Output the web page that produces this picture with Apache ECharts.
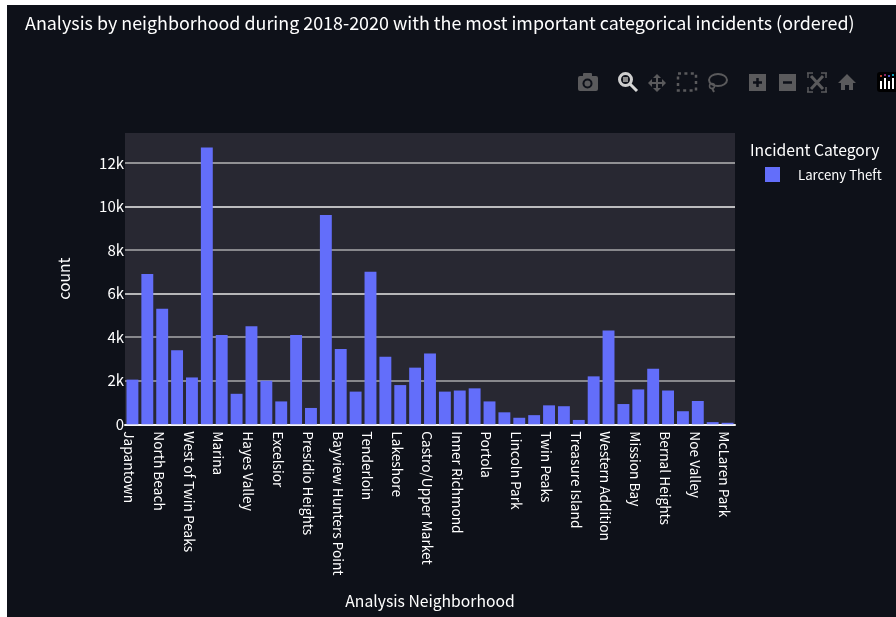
<!DOCTYPE html>
<html><head><meta charset="utf-8">
<style>html,body{margin:0;padding:0;background:#fff}#c{width:896px;height:617px}</style>
<script src="https://cdn.jsdelivr.net/npm/echarts@6/dist/echarts.min.js"></script>
</head><body><div id="c"></div>
<script>
// Only every second neighbourhood name is legible in the picture; the others stay blank.
const neighborhoods = ["Japantown","","North Beach","","West of Twin Peaks","","Marina","","Hayes Valley","","Excelsior","","Presidio Heights","","Bayview Hunters Point","","Tenderloin","","Lakeshore","","Castro/Upper Market","","Inner Richmond","","Portola","","Lincoln Park","","Twin Peaks","","Treasure Island","","Western Addition","","Mission Bay","","Bernal Heights","","Noe Valley","","McLaren Park"];
const larcenyTheft = [2050,6900,5300,3400,2150,12700,4100,1400,4500,2000,1050,4100,750,9600,3450,1500,7000,3100,1800,2600,3250,1500,1550,1650,1050,550,300,420,870,830,200,2200,4300,930,1600,2550,1550,600,1070,100,70];
const FONT = '"Noto Sans CJK SC","Noto Sans",sans-serif';
const chart = echarts.init(document.getElementById('c'), null, {renderer:'canvas'});
const G='#5a5a5c', BG='#0e1119';
const rect=(x,y,w,h,fill,r)=>({type:'rect',silent:true,shape:{x,y,width:w,height:h,r:r||0},style:{fill}});
const line=(x1,y1,x2,y2,stroke,w)=>({type:'line',silent:true,shape:{x1,y1,x2,y2},style:{stroke,lineWidth:w||2}});
const poly=(points,fill)=>({type:'polygon',silent:true,shape:{points},style:{fill}});
const circ=(cx,cy,r,fill,stroke,w)=>({type:'circle',silent:true,shape:{cx,cy,r},style:{fill:fill||'none',stroke:stroke||null,lineWidth:w||0}});
const modebar=[
  // camera
  rect(578,76,20,15,G,2),rect(583,73,9,4,G,1),circ(587.5,83.5,5,BG),circ(587.5,83.5,3,G),
  // zoom (active)
  circ(625.5,79.5,6,'none','#cfcfcf',3),rect(623,77,5,5,'#8a8a8a'),line(630,84,637,91,'#d8d8d8',3),
  // pan
  line(649,83,665,83,G,2),line(657,75,657,91,G,2),
  poly([[648,83],[652,79],[652,87]],G),poly([[666,83],[662,79],[662,87]],G),
  poly([[657,74],[653,78],[661,78]],G),poly([[657,92],[653,88],[661,88]],G),
  // box select
  {type:'rect',silent:true,shape:{x:678,y:73.5,width:18,height:17},style:{fill:'none',stroke:G,lineWidth:2.5,lineDash:[3,3.4]}},
  // lasso
  {type:'ellipse',silent:true,shape:{cx:718,cy:80,rx:9,ry:6},style:{fill:'none',stroke:G,lineWidth:2}},
  circ(712,86,2.5,'none',G,1.5),line(712,88,714,92,G,2),
  // zoom in
  rect(749,74,17,17,G),line(753,82.5,762,82.5,BG,2.5),line(757.5,78,757.5,87,BG,2.5),
  // zoom out
  rect(779,74,17,17,G),line(783,82.5,792,82.5,BG,2.5),
  // autoscale
  line(808,78,808,73,G,1.5),line(807,73,813,73,G,1.5),line(821,73,827,73,G,1.5),line(826,73,826,78,G,1.5),
  line(808,87,808,92,G,1.5),line(807,92,813,92,G,1.5),line(821,92,827,92,G,1.5),line(826,87,826,92,G,1.5),
  line(811,76,823,89,G,3),line(823,76,811,89,G,3),
  // home
  poly([[847,74],[838,83],[841,83],[841,90],[845,90],[845,85],[849,85],[849,90],[853,90],[853,83],[856,83]],G),
  // logo
  rect(877,72,22,20,'#000',3),
  rect(880,81,2,8,'#fff'),rect(884,78,2,11,'#fff'),rect(888,81,2,8,'#fff'),rect(892,78,2,11,'#fff'),
  circ(881,76,1,'#ef553b'),circ(885,75,1,'#b6308c'),circ(889,76,1,'#636efa'),circ(893,75,1,'#19d3f3')
];
chart.setOption({
  animation:false,
  backgroundColor:BG,
  title:{text:'Analysis by neighborhood during 2018-2020 with the most important categorical incidents (ordered)',left:20,top:9,textStyle:{color:'#fff',fontFamily:FONT,fontSize:17.9,fontWeight:'normal'}},
  legend:{show:false},
  grid:{left:125,top:133,width:610,height:291.3,backgroundColor:'#282832',show:true,borderWidth:0},
  xAxis:{type:'category',data:neighborhoods,
    name:'Analysis Neighborhood',nameLocation:'middle',nameGap:169,nameTextStyle:{color:'#fff',fontFamily:FONT,fontSize:15.7},
    axisLine:{show:true,onZero:true,lineStyle:{color:'#f4f4f4',width:2}},axisTick:{show:false},
    axisLabel:{interval:1,rotate:-90,color:'#fff',fontFamily:FONT,fontSize:13.7,margin:7,align:'left',verticalAlign:'top',lineHeight:6}},
  yAxis:{type:'value',min:0,max:13368,interval:2000,
    name:'count',nameLocation:'middle',nameGap:53,nameRotate:90,nameTextStyle:{color:'#fff',fontFamily:FONT,fontSize:15.7},
    axisLine:{show:false},axisTick:{show:false},
    axisLabel:{color:'#fff',fontFamily:FONT,fontSize:15,margin:1,showMaxLabel:false,formatter:v=>v===0?'0':(v/1000)+'k'},
    splitLine:{show:true,lineStyle:{width:1.5,color:['#ffffff','#a9a9ab','#a9a9ab','#e6e6e6','#a9a9ab','#eeeeee','#b4b4b6','rgba(0,0,0,0)']}}},
  series:[{name:'Larceny Theft',type:'bar',data:larcenyTheft,barCategoryGap:'20%',itemStyle:{color:'#636efa'}}],
  graphic:[
    rect(0,0,7,617,'#fff'),rect(0,0,896,5,'#fff'),
    {type:'text',silent:true,x:750,y:142,style:{text:'Incident Category',fill:'#fff',font:'15.7px '+FONT}},
    rect(765,167,15,15,'#636efa'),
    {type:'text',silent:true,x:798,y:168,style:{text:'Larceny Theft',fill:'#fff',font:'13.2px '+FONT}},
    ...modebar
  ]
});
</script></body></html>
